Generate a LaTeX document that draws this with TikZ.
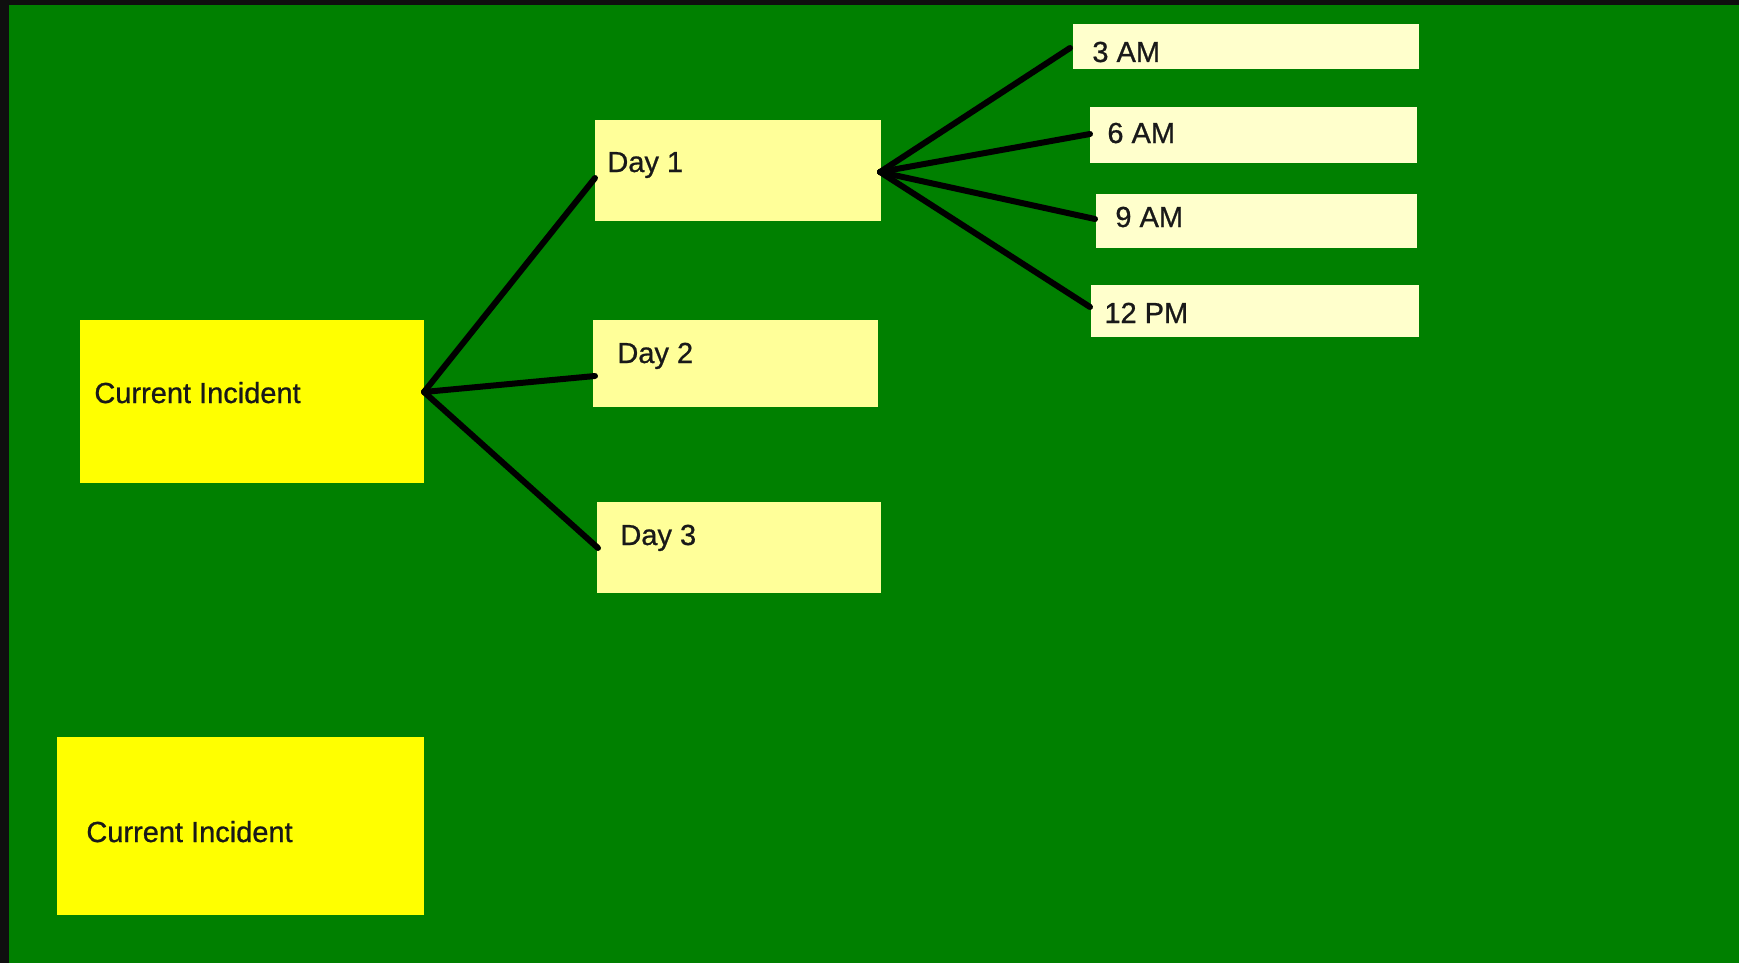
\documentclass[tikz,border=0pt]{standalone}
\usepackage{fontspec}
\setmainfont{Liberation Sans}
\newfontfamily\boxfont[FakeBold=0.8]{Liberation Sans}
\usetikzlibrary{calc}

\definecolor{bggreen}{RGB}{0,128,0}
\definecolor{edgedark}{RGB}{15,15,15}
\definecolor{rootyellow}{RGB}{255,255,0}
\definecolor{dayyellow}{RGB}{255,255,153}
\definecolor{hourcream}{RGB}{255,255,204}

\begin{document}
\begin{tikzpicture}[x=0.5pt, y=-0.5pt,
  box/.style={rectangle, inner sep=0pt, outer sep=0pt, draw=none},
  rootbox/.style={box, fill=rootyellow},
  daybox/.style={box, fill=dayyellow},
  hourbox/.style={box, fill=hourcream},
  caption/.style={anchor=base west, inner sep=0pt, font=\boxfont\fontsize{14.5pt}{17pt}\selectfont, text=black!90},
  link/.style={line width=3pt, draw=black, line cap=round}]

  % canvas: green field with a dark strip along the top and left edges
  \useasboundingbox (0,0) rectangle (1739,963);
  \fill[bggreen] (0,0) rectangle (1739,963);
  \fill[edgedark] (0,0) rectangle (1739,5);
  \fill[edgedark] (0,0) rectangle (9,963);

  % root boxes
  \node[rootbox, minimum width=172pt, minimum height=81.5pt] (ci1) at (252,401.5) {};
  \node[rootbox, minimum width=183.5pt, minimum height=89pt] (ci2) at (240.5,826) {};

  % day boxes
  \node[daybox, minimum width=143pt, minimum height=50.5pt] (day1) at (738,170.5) {};
  \node[daybox, minimum width=142.5pt, minimum height=43.5pt] (day2) at (735.5,363.5) {};
  \node[daybox, minimum width=142pt, minimum height=45.5pt] (day3) at (739,547.5) {};

  % hour boxes
  \node[hourbox, minimum width=173pt, minimum height=22.5pt] (am3) at (1246,46.5) {};
  \node[hourbox, minimum width=163.5pt, minimum height=28pt] (am6) at (1253.5,135) {};
  \node[hourbox, minimum width=160.5pt, minimum height=27pt] (am9) at (1256.5,221) {};
  \node[hourbox, minimum width=164pt, minimum height=26pt] (pm12) at (1255,311) {};

  % captions
  \node[caption] (ci1t) at (94,403) {Current Incident};
  \node[caption] (ci2t) at (86,842) {Current Incident};
  \node[caption] (day1t) at (607,172) {Day 1};
  \node[caption] (day2t) at (617,363) {Day 2};
  \node[caption] (day3t) at (620,545) {Day 3};
  \node[caption] (am3t) at (1092,62) {3 AM};
  \node[caption] (am6t) at (1107,143) {6 AM};
  \node[caption] (am9t) at (1115,227) {9 AM};
  \node[caption] (pm12t) at (1104,323) {12 PM};

  % connectors
  \coordinate (ciHub) at ($(ci1.east)+(0,-9.5)$);
  \coordinate (dayHub) at ($(day1.east)+(-1,1.5)$);
  \draw[link] (ciHub) -- ($(day1.west)+(0,7.5)$);
  \draw[link] (ciHub) -- ($(day2.west)+(2,12.5)$);
  \draw[link] (ciHub) -- ($(day3.west)+(1,0.5)$);
  \draw[link] (dayHub) -- ($(am3.west)+(-3,1.5)$);
  \draw[link] (dayHub) -- ($(am6.west)+(0,-1)$);
  \draw[link] (dayHub) -- ($(am9.west)+(-1,-2)$);
  \draw[link] (dayHub) -- ($(pm12.west)+(-1,-4)$);
\end{tikzpicture}
\end{document}
